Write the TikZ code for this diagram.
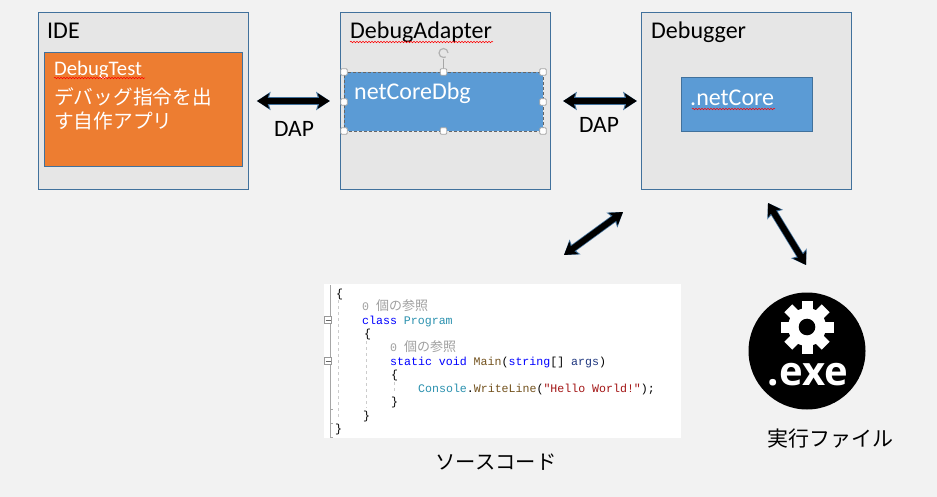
\documentclass[tikz,border=0pt]{standalone}
\usepackage{fontspec}
\setmainfont{Carlito}
\newfontfamily\cjk{Noto Sans CJK JP}
\newfontfamily\codefont{Liberation Mono}
\newfontfamily\exefont{Open Sans}
\usetikzlibrary{arrows.meta,decorations.pathmorphing}
\definecolor{pagegray}{HTML}{F2F2F2}
\definecolor{boxgray}{HTML}{E6E6E6}
\definecolor{boxline}{HTML}{41719C}
\definecolor{orangebox}{HTML}{ED7D31}
\definecolor{bluebox}{HTML}{5B9BD5}
\definecolor{kwblue}{HTML}{0000FF}
\definecolor{typeteal}{HTML}{2B91AF}
\definecolor{methbrown}{HTML}{74531F}
\definecolor{strred}{HTML}{A31515}
\definecolor{refgray}{HTML}{A0A0A0}
\definecolor{argnavy}{HTML}{1F377F}
\tikzset{
  panel/.style={draw=boxline, fill=boxgray, line width=0.9pt, inner sep=0pt},
  label/.style={anchor=base west, inner sep=0pt, font=\fontsize{24}{28}\selectfont},
  whitelabel/.style={label, text=white},
  dap/.style={anchor=base, inner sep=0pt, font=\fontsize{23.5}{28}\selectfont},
  jplabel/.style={anchor=base, inner sep=0pt, font=\cjk\fontsize{21}{25}\selectfont},
  code/.style={anchor=base west, inner sep=0pt, font=\codefont\fontsize{11.6}{14}\selectfont},
  squiggle/.style={draw=red, line width=0.5pt, decorate, decoration={snake, segment length=3pt, amplitude=0.8pt}},
  handle/.style={draw=gray!70, fill=white, line width=0.8pt, rounded corners=1pt, minimum size=6.5pt, inner sep=0pt},
  biarrow/.style={line width=6pt, black, {Stealth[length=12pt,width=15pt,inset=2.5pt]}-{Stealth[length=12pt,width=15pt,inset=2.5pt]},
    preaction={draw=boxline, line width=7.5pt, {Stealth[length=13.5pt,width=18pt,inset=2.5pt]}-{Stealth[length=13.5pt,width=18pt,inset=2.5pt]}}},
  guide/.style={draw=gray!40, dashed, line width=0.8pt},
  foldbox/.style={draw=gray!80, fill=white, line width=0.7pt, minimum size=7pt, inner sep=0pt},
}
\newcommand{\refcount}{0 {\cjk\fontsize{13}{14}\selectfont 個の参照}}
\begin{document}
\begin{tikzpicture}[x=1pt, y=-1pt]
  \useasboundingbox (0,0) rectangle (937,497);
  \fill[pagegray] (0,0) rectangle (937,497);

  % Panels
  \node[panel, minimum width=210pt, minimum height=177pt] (ide) at (143.5,101) {};
  \node[panel, minimum width=210.5pt, minimum height=177pt] (adapter) at (445.5,101) {};
  \node[panel, minimum width=210.5pt, minimum height=177pt] (debugger) at (746.5,101) {};

  % Inner boxes
  \node[panel, fill=orangebox, minimum width=198.5pt, minimum height=114pt] (selfapp) at (143.5,109) {};
  \node[draw=gray!80!black, densely dashed, fill=bluebox, line width=0.7pt, inner sep=0pt, minimum width=199pt, minimum height=59pt] (netcoredbg) at (443.5,101.5) {};
  \node[panel, fill=bluebox, minimum width=131.5pt, minimum height=54pt] (netcore) at (747,104) {};

  % Labels
  \node[label] (idetext) at (47,39) {IDE};
  \node[label] (adaptertext) at (350,39) {DebugAdapter};
  \node[label] (debuggertext) at (651,39) {Debugger};
  \node[whitelabel, font=\fontsize{20.7}{25}\selectfont] (selftext) at (54,76) {DebugTest};
  \node[whitelabel, font=\cjk\fontsize{19.7}{24}\selectfont] (selfjpa) at (54,105) {デバッグ指令を出};
  \node[whitelabel, font=\cjk\fontsize{19.7}{24}\selectfont] (selfjpb) at (54,129) {す自作アプリ};
  \node[whitelabel] (netcoredbgtext) at (354,100) {netCoreDbg};
  \node[whitelabel] (netcoretext) at (690,106) {.netCore};
  \node[dap] (dapa) at (294,137) {DAP};
  \node[dap] (dapb) at (599,133) {DAP};

  % Spelling marks
  \draw[squiggle] (54,78) -- (145,78);
  \draw[squiggle] (350,42) -- (493,42);
  \draw[squiggle] (692,109) -- (775,109);

  % Selection handles
  \draw[gray!70, line width=0.7pt] (443.5,59) -- (443.5,72);
  \draw[gray!60, line width=1.2pt] (448,53) arc (0:300:4.5pt);
  \node[handle] (hnw) at (344,72) {};
  \node[handle] (hn) at (443.5,72) {};
  \node[handle] (hne) at (543,72) {};
  \node[handle] (hw) at (344,102) {};
  \node[handle] (he) at (543,102) {};
  \node[handle] (hsw) at (344,131) {};
  \node[handle] (hs) at (443.5,131) {};
  \node[handle] (hse) at (543,131) {};

  % Source code
  \fill[white] (324,284) rectangle (681,438);
  \draw[gray!70, line width=0.8pt] (330,285) -- (330,316);
  \draw[gray!70, line width=0.8pt] (330,324) -- (330,357);
  \draw[gray!70, line width=0.8pt] (330,365) -- (330,437) -- (333,437);
  \draw[gray!70, line width=0.8pt] (330,409) -- (333,409);
  \draw[gray!70, line width=0.8pt] (330,423) -- (333,423);
  \draw[guide] (338.5,300) -- (338.5,420);
  \draw[guide] (366.5,341) -- (366.5,408);
  \draw[guide] (394.5,382) -- (394.5,394);
  \node[foldbox] (folda) at (328,320) {};
  \node[foldbox] (foldb) at (328,361) {};
  \draw[gray!80!black, line width=0.7pt] (325.5,320) -- (330.5,320);
  \draw[gray!80!black, line width=0.7pt] (325.5,361) -- (330.5,361);
  \node[code] (linea) at (336,297) {\{};
  \node[code, text=refgray] (lineb) at (362,310) {\refcount};
  \node[code] (linec) at (362,324) {\textcolor{kwblue}{class} \textcolor{typeteal}{Program}};
  \node[code] (lined) at (364,337) {\{};
  \node[code, text=refgray] (linee) at (390,351) {\refcount};
  \node[code] (linef) at (390,365) {\textcolor{kwblue}{static void} \textcolor{methbrown}{Main}(\textcolor{kwblue}{string}[] \textcolor{argnavy}{args})};
  \node[code] (lineg) at (391,378) {\{};
  \node[code] (lineh) at (418,392) {\textcolor{typeteal}{Console}.\textcolor{methbrown}{WriteLine}(\textcolor{strred}{"Hello World!"});};
  \node[code] (linei) at (391,405) {\}};
  \node[code] (linej) at (363,419) {\}};
  \node[code] (linek) at (335,432) {\}};

  % Exe icon
  \fill[black] (807,351) circle (58.5pt);
  \foreach \a in {0,45,...,315}
    \fill[white, rotate around={\a:(807,327)}] (801.5,300.5) rectangle (812.5,312);
  \fill[white] (807,327) circle (19pt);
  \fill[black] (807,327) circle (8.3pt);
  \node[anchor=base, inner sep=0pt, text=white, font=\exefont\bfseries\fontsize{40}{42}\selectfont] (exetext) at (808,385) {.exe};

  % Captions
  \node[jplabel, font=\cjk\fontsize{20.3}{25}\selectfont] (sourcetext) at (496,469) {ソースコード};
  \node[jplabel] (runtext) at (830.5,446) {実行ファイル};

  % Arrows
  \coordinate (sourceend) at (564,255);
  \coordinate (debugend) at (623,212);
  \coordinate (exeend) at (806,265);
  \coordinate (runend) at (768,203);
  \draw[biarrow, shorten <=8pt, shorten >=10pt] (ide) -- (adapter);
  \draw[biarrow, shorten <=12pt, shorten >=4pt] (adapter) -- (debugger);
  \draw[biarrow] (sourceend) -- (debugend);
  \draw[biarrow] (runend) -- (exeend);
\end{tikzpicture}
\end{document}
